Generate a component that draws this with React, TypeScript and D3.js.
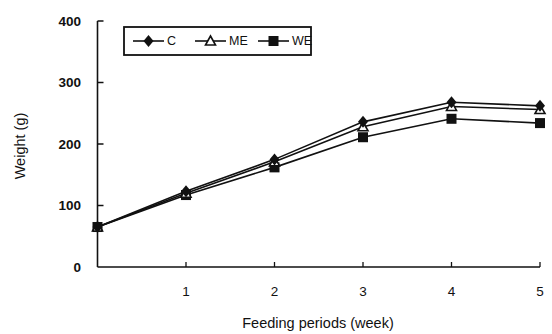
import React from 'react';
import * as d3 from 'd3';

const weeks = [0, 1, 2, 3, 4, 5];
const cValues = [65, 123, 175, 236, 268, 262];
const meValues = [65, 120, 171, 228, 261, 256];
const weValues = [65, 117, 162, 211, 241, 234];
const yTicks = [0, 100, 200, 300, 400];
const xTicks = [1, 2, 3, 4, 5];

const series = [
  { name: 'WE', values: weValues, marker: 'square' },
  { name: 'ME', values: meValues, marker: 'triangle' },
  { name: 'C', values: cValues, marker: 'diamond' },
];

const legendNames = ['C', 'ME', 'WE'];
const legendMarkers = ['diamond', 'triangle', 'square'];

const Marker = ({ type, x, y }: { type: string; x: number; y: number }) => {
  if (type === 'square') {
    return <rect x={x - 5} y={y - 5} width={10} height={10} fill="#111" />;
  }
  if (type === 'triangle') {
    return (
      <path
        d={`M${x},${y - 5} L${x + 5},${y + 4} L${x - 5},${y + 4} Z`}
        fill="#fff"
        stroke="#111"
        strokeWidth={1.6}
      />
    );
  }
  return <path d={`M${x},${y - 6} L${x + 5},${y} L${x},${y + 6} L${x - 5},${y} Z`} fill="#111" />;
};

export default function App() {
  const width = 552;
  const height = 334;
  const left = 97.5;
  const right = 540;
  const top = 21;
  const bottom = 267;

  const x = d3.scaleLinear().domain([0, 5]).range([left, right]);
  const y = d3.scaleLinear().domain([0, 400]).range([bottom, top]);

  const line = d3
    .line<number>()
    .x((_, i) => x(weeks[i]))
    .y((d) => y(d));

  const font = "'Liberation Sans', Arial, sans-serif";

  // legend layout
  const legend = { x: 124, y: 27, w: 187, h: 28 };
  const legendX = [133, 195, 258];
  const segLen = 31;

  return (
    <svg
      width={width}
      height={height}
      style={{ position: 'fixed', left: 0, top: 0, background: '#fff' }}
      fontFamily={font}
    >
      {/* axes */}
      <line x1={left} x2={left} y1={top} y2={bottom} stroke="#111" strokeWidth={1.6} />
      <line x1={left} x2={right} y1={bottom} y2={bottom} stroke="#111" strokeWidth={1.6} />
      {yTicks.map((t) => (
        <g key={`y${t}`}>
          {t > 0 && <line x1={left} x2={left + 6} y1={y(t)} y2={y(t)} stroke="#111" strokeWidth={1.5} />}
          <text x={81} y={y(t)} dy="0.35em" textAnchor="end" fontSize={13.5} fontWeight="bold" fill="#111">
            {t}
          </text>
        </g>
      ))}
      {xTicks.map((t) => (
        <g key={`x${t}`}>
          <line x1={x(t)} x2={x(t)} y1={bottom} y2={bottom - 5} stroke="#111" strokeWidth={1.3} />
          <text x={x(t)} y={296} textAnchor="middle" fontSize={13.5} fill="#111">
            {t}
          </text>
        </g>
      ))}
      <text x={318} y={328} textAnchor="middle" fontSize={14.5} fill="#111">
        Feeding periods (week)
      </text>
      <text
        transform={`translate(25,${146}) rotate(-90)`}
        textAnchor="middle"
        fontSize={14.5}
        fill="#111"
      >
        Weight (g)
      </text>

      {/* series */}
      {series.map((s) => (
        <path key={`l${s.name}`} d={line(s.values) ?? ''} fill="none" stroke="#111" strokeWidth={1.6} />
      ))}
      {series.map((s) =>
        s.values.map((v, i) => <Marker key={`${s.name}${i}`} type={s.marker} x={x(weeks[i])} y={y(v)} />)
      )}

      {/* legend */}
      <rect x={legend.x} y={legend.y} width={legend.w} height={legend.h} fill="#fff" stroke="#111" strokeWidth={1.8} />
      {legendNames.map((name, i) => (
        <g key={`lg${name}`}>
          <line
            x1={legendX[i]}
            x2={legendX[i] + segLen}
            y1={legend.y + 14}
            y2={legend.y + 14}
            stroke="#111"
            strokeWidth={1.6}
          />
          <Marker type={legendMarkers[i]} x={legendX[i] + segLen / 2} y={legend.y + 14} />
          <text x={legendX[i] + segLen + 3} y={legend.y + 14} dy="0.35em" fontSize={12.5} fill="#111">
            {name}
          </text>
        </g>
      ))}
    </svg>
  );
}
